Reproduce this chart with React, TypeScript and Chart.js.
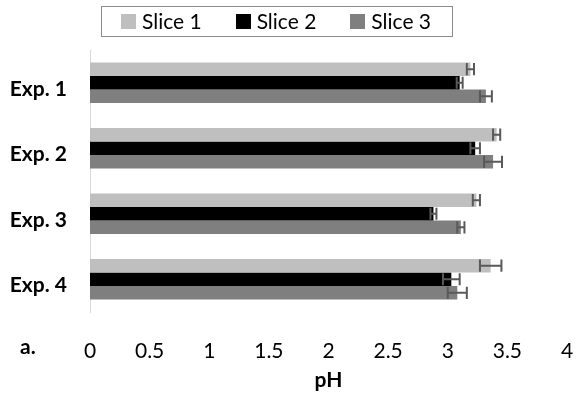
import React, { useEffect, useRef } from "react";
import { Chart, registerables } from "chart.js";

Chart.register(...registerables);

const categories = ["Exp. 1", "Exp. 2", "Exp. 3", "Exp. 4"];
const seriesNames = ["Slice 1", "Slice 2", "Slice 3"];
const seriesColors = ["#bfbfbf", "#000000", "#7f7f7f"];
const slice1 = [3.19, 3.41, 3.24, 3.36];
const slice2 = [3.1, 3.23, 2.88, 3.03];
const slice3 = [3.32, 3.38, 3.11, 3.08];
const err1 = [0.03, 0.03, 0.03, 0.09];
const err2 = [0.025, 0.04, 0.025, 0.07];
const err3 = [0.05, 0.075, 0.03, 0.08];
const xMin = 0;
const xMax = 4;
const xStep = 0.5;
const xTitle = "pH";
const panelLabel = "a.";

const FONT = "Lato";
const FS = 21;

const errorBarPlugin = {
  id: "errorBars",
  afterDatasetsDraw(chart: any) {
    const ctx = chart.ctx;
    const xs = chart.scales.x;
    chart.data.datasets.forEach((ds: any, di: number) => {
      const meta = chart.getDatasetMeta(di);
      meta.data.forEach((bar: any, i: number) => {
        const v = ds.data[i];
        const e = ds.errors[i];
        const x1 = xs.getPixelForValue(v - e);
        const x2 = xs.getPixelForValue(v + e);
        const { y, height } = bar.getProps(["y", "height"], true);
        const h = height * 0.45;
        ctx.save();
        ctx.strokeStyle = "#595959";
        ctx.lineWidth = 2;
        ctx.beginPath();
        ctx.moveTo(x1, y);
        ctx.lineTo(x2, y);
        ctx.moveTo(x1, y - h);
        ctx.lineTo(x1, y + h);
        ctx.moveTo(x2, y - h);
        ctx.lineTo(x2, y + h);
        ctx.stroke();
        ctx.restore();
      });
    });
  },
};

const legendPlugin = {
  id: "boxLegend",
  afterDraw(chart: any) {
    const ctx = chart.ctx;
    ctx.save();
    ctx.font = `${FS}px ${FONT}`;
    const box = 15;
    const gapText = 6;
    const gapItem = 34;
    const widths = seriesNames.map((n) => ctx.measureText(n).width);
    const total =
      widths.reduce((a, b) => a + b, 0) + seriesNames.length * (box + gapText) + gapItem * (seriesNames.length - 1);
    const centerX = 276;
    let x = centerX - total / 2;
    const cy = 21.5;
    ctx.strokeStyle = "#8c8c8c";
    ctx.lineWidth = 1;
    ctx.strokeRect(Math.round(x - 20) + 0.5, 6.5, Math.round(total + 41), 30);
    ctx.textBaseline = "middle";
    ctx.textAlign = "left";
    seriesNames.forEach((n, i) => {
      ctx.fillStyle = seriesColors[i];
      ctx.fillRect(Math.round(x), cy - box / 2, box, box);
      ctx.fillStyle = "#000000";
      ctx.fillText(n, x + box + gapText, cy + 1);
      x += box + gapText + widths[i] + gapItem;
    });
    ctx.font = `bold ${FS}px ${FONT}`;
    ctx.fillText(panelLabel, 20, 347);
    ctx.restore();
  },
};

export default function App() {
  const ref = useRef<HTMLCanvasElement>(null);
  useEffect(() => {
    const errs = [err1, err2, err3];
    const vals = [slice1, slice2, slice3];
    const chart = new Chart(ref.current!, {
      type: "bar",
      data: {
        labels: categories,
        datasets: seriesNames.map((name, i) => ({
          label: name,
          data: vals[i],
          errors: errs[i],
          backgroundColor: seriesColors[i],
          borderWidth: 0,
          barPercentage: 1,
          categoryPercentage: 0.62,
        })) as any,
      },
      options: {
        indexAxis: "y",
        responsive: false,
        animation: false,
        layout: { padding: { top: 50, right: 10, left: 0, bottom: 0 } },
        plugins: {
          legend: { display: false },
          tooltip: { enabled: false },
        },
        scales: {
          x: {
            min: xMin,
            max: xMax,
            grid: { display: false, drawTicks: true, tickLength: 24 },
            border: { display: false },
            afterFit: (scale: any) => {
              scale.height = 84;
            },
            ticks: {
              stepSize: xStep,
              padding: 3,
              color: "#000",
              font: { family: FONT, size: FS },
              maxRotation: 0,
              autoSkip: false,
              callback: (v: any) => String(v),
            },
            title: {
              display: true,
              text: xTitle,
              color: "#000",
              font: { family: FONT, size: FS, weight: "bold" },
              padding: { top: 0, bottom: 3 },
            },
          },
          y: {
            grid: { display: false, drawTicks: false },
            border: { display: true, color: "#d9d9d9", width: 1 },
            afterFit: (scale: any) => {
              scale.width = 90;
            },
            ticks: {
              padding: 23,
              labelOffset: 6,
              color: "#000",
              font: { family: FONT, size: FS, weight: "bold" },
            },
          },
        },
      },
      plugins: [errorBarPlugin, legendPlugin],
    });
    return () => chart.destroy();
  }, []);
  return (
    <div style={{ position: "absolute", left: 0, top: 0, width: 577, height: 396, background: "#fff" }}>
      <canvas ref={ref} width={577} height={396} style={{ display: "block" }} />
    </div>
  );
}
